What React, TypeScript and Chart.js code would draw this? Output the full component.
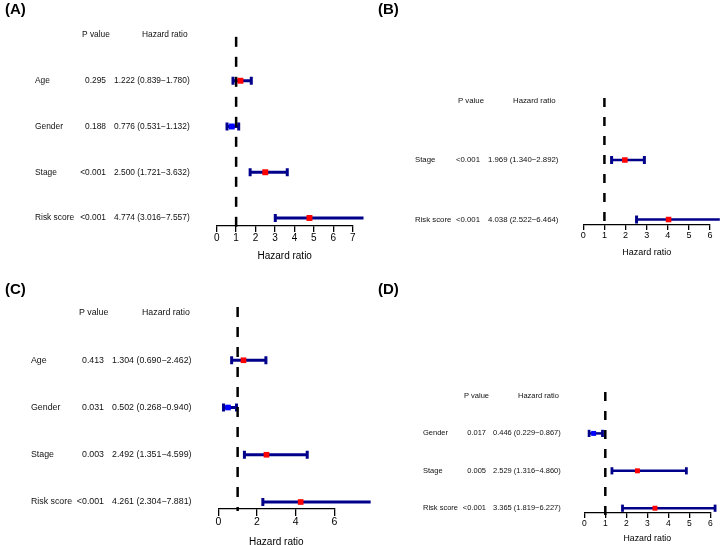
import React, { useEffect, useRef } from "react";
import { Chart, registerables } from "chart.js";

Chart.register(...registerables);

const FONT = "'Liberation Sans', Arial, Helvetica, sans-serif";

// ---------- data ----------
const tagA = "(A)";
const variablesA = ["Age", "Gender", "Stage", "Risk score"];
const pValuesA = ["0.295", "0.188", "<0.001", "<0.001"];
const hrA = [1.222, 0.776, 2.5, 4.774];
const lowA = [0.839, 0.531, 1.721, 3.016];
const highA = [1.78, 1.132, 3.632, 7.557];
const xMaxA = 7;
const xStepA = 1;

const tagB = "(B)";
const variablesB = ["Stage", "Risk score"];
const pValuesB = ["<0.001", "<0.001"];
const hrB = [1.969, 4.038];
const lowB = [1.34, 2.522];
const highB = [2.892, 6.464];
const xMaxB = 6;
const xStepB = 1;

const tagC = "(C)";
const variablesC = ["Age", "Gender", "Stage", "Risk score"];
const pValuesC = ["0.413", "0.031", "0.003", "<0.001"];
const hrC = [1.304, 0.502, 2.492, 4.261];
const lowC = [0.69, 0.268, 1.351, 2.304];
const highC = [2.462, 0.94, 4.599, 7.881];
const xMaxC = 6;
const xStepC = 2;

const tagD = "(D)";
const variablesD = ["Gender", "Stage", "Risk score"];
const pValuesD = ["0.017", "0.005", "<0.001"];
const hrD = [0.446, 2.529, 3.365];
const lowD = [0.229, 1.316, 1.819];
const highD = [0.867, 4.86, 6.227];
const xMaxD = 6;
const xStepD = 1;

const headerP = "P value";
const headerHR = "Hazard ratio";
const axisTitle = "Hazard ratio";

// ---------- styles ----------
const CI_COLOR = "#00008B";
const UP_COLOR = "#FF0000";
const DOWN_COLOR = "#0000FF";
const TEXT_COLOR = "#111111";

type PanelData = {
  tag: string;
  variables: string[];
  pValues: string[];
  hr: number[];
  low: number[];
  high: number[];
  xMax: number;
  xStep: number;
};

type PanelLayout = {
  left: number; top: number; width: number; height: number;
  padL: number; padR: number; padT: number; padB: number;
  axisH: number; yMax: number;
  tickFont: number; tickLen: number; tickPad: number;
  titleFont: number; titlePadB: number;
  fontSize: number;
  labelX: number; pRight: number; hrLeft: number; pHeadX: number; hrHeadX: number;
  tagX: number; tagY: number;
  dashTop: number; dashBottom: number; dash: number[]; dashW: number;
  pointR: number; capR: number; capW: number; lineW: number;
};

const panels: { data: PanelData; layout: PanelLayout }[] = [
  {
    data: { tag: tagA, variables: variablesA, pValues: pValuesA, hr: hrA, low: lowA, high: highA, xMax: xMaxA, xStep: xStepA },
    layout: {
      left: 0, top: 0, width: 380, height: 270,
      padL: 216.7, padR: 27.3, padT: 35, padB: 8,
      axisH: 36, yMax: 4.175,
      tickFont: 10, tickLen: 6, tickPad: 0,
      titleFont: 10, titlePadB: 0,
      fontSize: 8.4,
      labelX: 35, pRight: 106, hrLeft: 114, pHeadX: 82, hrHeadX: 142,
      tagX: 5, tagY: 10,
      dashTop: 0.04, dashBottom: 4.28, dash: [10, 10], dashW: 2.5,
      pointR: 4.2, capR: 4, capW: 3, lineW: 3,
    },
  },
  {
    data: { tag: tagB, variables: variablesB, pValues: pValuesB, hr: hrB, low: lowB, high: highB, xMax: xMaxB, xStep: xStepB },
    layout: {
      left: 360, top: 0, width: 360, height: 270,
      padL: 223.3, padR: 10, padT: 100.5, padB: 11.6,
      axisH: 33.4, yMax: 2.092,
      tickFont: 9, tickLen: 5, tickPad: 0.5,
      titleFont: 9, titlePadB: 0,
      fontSize: 7.8,
      labelX: 55, pRight: 120, hrLeft: 128, pHeadX: 98, hrHeadX: 153,
      tagX: 18, tagY: 10,
      dashTop: -0.04, dashBottom: 2.14, dash: [9, 10], dashW: 2.5,
      pointR: 3.9, capR: 4, capW: 3, lineW: 2.6,
    },
  },
  {
    data: { tag: tagC, variables: variablesC, pValues: pValuesC, hr: hrC, low: lowC, high: highC, xMax: xMaxC, xStep: xStepC },
    layout: {
      left: 0, top: 270, width: 380, height: 275,
      padL: 218.3, padR: 45.7, padT: 43, padB: 0,
      axisH: 36, yMax: 4.148,
      tickFont: 10.5, tickLen: 7, tickPad: 0,
      titleFont: 10, titlePadB: -3,
      fontSize: 8.8,
      labelX: 31, pRight: 104, hrLeft: 112, pHeadX: 79, hrHeadX: 142,
      tagX: 5, tagY: 20,
      dashTop: -0.127, dashBottom: 4.19, dash: [10, 10], dashW: 2.5,
      pointR: 4, capR: 4, capW: 3, lineW: 3,
    },
  },
  {
    data: { tag: tagD, variables: variablesD, pValues: pValuesD, hr: hrD, low: lowD, high: highD, xMax: xMaxD, xStep: xStepD },
    layout: {
      left: 360, top: 270, width: 360, height: 275,
      padL: 224.3, padR: 9.7, padT: 126, padB: 0.75,
      axisH: 31.25, yMax: 3.128,
      tickFont: 8.5, tickLen: 5, tickPad: 0.75,
      titleFont: 8.75, titlePadB: 0,
      fontSize: 7.5,
      labelX: 63, pRight: 126, hrLeft: 133, pHeadX: 104, hrHeadX: 158,
      tagX: 18, tagY: 20,
      dashTop: -0.107, dashBottom: 3.235, dash: [9, 10], dashW: 2.5,
      pointR: 3.5, capR: 3.6, capW: 2.8, lineW: 2.5,
    },
  },
];

function fmtHR(hr: number, lo: number, hi: number) {
  return `${hr.toFixed(3)} (${lo.toFixed(3)}\u2212${hi.toFixed(3)})`;
}

function ForestPanel({ data, layout }: { data: PanelData; layout: PanelLayout }) {
  const ref = useRef<HTMLCanvasElement | null>(null);

  useEffect(() => {
    const canvas = ref.current;
    if (!canvas) return;
    const L = layout;
    const rows = data.variables.map((_, i) => i + 1);

    const ciSets: any[] = rows.map((r, i) => ({
      type: "line",
      data: [
        { x: data.low[i], y: r },
        { x: data.high[i], y: r },
      ],
      showLine: true,
      borderColor: CI_COLOR,
      borderWidth: L.lineW,
      pointStyle: "line",
      pointRotation: 90,
      pointRadius: L.capR,
      pointHoverRadius: L.capR,
      pointBorderColor: CI_COLOR,
      pointBorderWidth: L.capW,
      pointHoverBorderWidth: L.capW,
      clip: false,
      order: 2,
    }));

    const dashSet: any = {
      type: "line",
      data: [
        { x: 1, y: L.dashTop },
        { x: 1, y: L.dashBottom },
      ],
      showLine: true,
      borderColor: "#000000",
      borderWidth: L.dashW,
      borderDash: L.dash,
      pointRadius: 0,
      pointHoverRadius: 0,
      clip: false,
      order: 1,
    };

    const pointSet: any = {
      type: "scatter",
      data: rows.map((r, i) => ({ x: data.hr[i], y: r })),
      showLine: false,
      pointStyle: "rect",
      pointRadius: L.pointR,
      pointHoverRadius: L.pointR,
      pointBackgroundColor: data.hr.map((v) => (v > 1 ? UP_COLOR : DOWN_COLOR)),
      pointBorderWidth: 0,
      pointHoverBorderWidth: 0,
      clip: false,
      order: 0,
    };

    const textPlugin = {
      id: "forestText",
      afterDraw(chart: any) {
        const ctx = chart.ctx as CanvasRenderingContext2D;
        const ys = chart.scales.y;
        ctx.save();
        // panel tag
        ctx.fillStyle = "#000";
        ctx.font = `bold 15px ${FONT}`;
        ctx.textBaseline = "middle";
        ctx.textAlign = "left";
        ctx.fillText(data.tag, L.tagX, L.tagY);

        ctx.fillStyle = TEXT_COLOR;
        ctx.font = `${L.fontSize}px ${FONT}`;
        const hy = ys.getPixelForValue(0);
        ctx.textAlign = "left";
        ctx.fillText(headerP, L.pHeadX, hy);
        ctx.fillText(headerHR, L.hrHeadX, hy);

        rows.forEach((r, i) => {
          const y = ys.getPixelForValue(r);
          ctx.textAlign = "left";
          ctx.fillText(data.variables[i], L.labelX, y);
          ctx.textAlign = "right";
          ctx.fillText(data.pValues[i], L.pRight, y);
          ctx.textAlign = "left";
          ctx.fillText(fmtHR(data.hr[i], data.low[i], data.high[i]), L.hrLeft, y);
        });
        ctx.restore();
      },
    };

    const chart = new Chart(canvas, {
      type: "scatter",
      data: { datasets: [pointSet, dashSet, ...ciSets] },
      options: {
        responsive: false,
        maintainAspectRatio: false,
        animation: false,
        devicePixelRatio: 1,
        events: [],
        layout: { padding: { left: L.padL, right: L.padR, top: L.padT, bottom: L.padB } },
        plugins: {
          legend: { display: false },
          tooltip: { enabled: false },
          title: { display: false },
        },
        scales: {
          x: {
            type: "linear",
            min: 0,
            max: data.xMax,
            ticks: {
              stepSize: data.xStep,
              color: "#000",
              font: { size: L.tickFont, family: FONT },
              padding: L.tickPad,
              maxRotation: 0,
              autoSkip: false,
            },
            grid: {
              display: true,
              drawOnChartArea: false,
              drawTicks: true,
              tickLength: L.tickLen,
              color: "#000",
              lineWidth: 1.3,
            },
            border: { display: true, color: "#000", width: 1.3 },
            title: {
              display: true,
              text: axisTitle,
              color: "#000",
              font: { size: L.titleFont, family: FONT },
              padding: { top: 0, bottom: L.titlePadB },
            },
            afterFit: (s: any) => {
              s.height = L.axisH;
            },
          },
          y: {
            type: "linear",
            display: false,
            min: 0,
            max: L.yMax,
            reverse: true,
          },
        },
      } as any,
      plugins: [textPlugin],
    });

    return () => chart.destroy();
  }, [data, layout]);

  return (
    <canvas
      ref={ref}
      width={layout.width}
      height={layout.height}
      style={{
        position: "absolute",
        left: layout.left,
        top: layout.top,
        width: layout.width,
        height: layout.height,
      }}
    />
  );
}

export default function App() {
  return (
    <div
      style={{
        position: "absolute",
        left: 0,
        top: 0,
        width: 720,
        height: 545,
        overflow: "hidden",
        background: "#fff",
      }}
    >
      {panels.map((p, i) => (
        <ForestPanel key={i} data={p.data} layout={p.layout} />
      ))}
    </div>
  );
}
